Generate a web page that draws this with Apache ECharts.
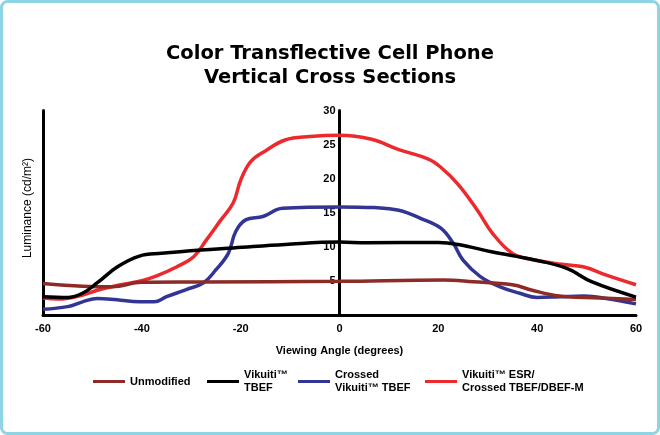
<!DOCTYPE html>
<html>
<head>
<meta charset="utf-8">
<script src="https://cdn.jsdelivr.net/npm/echarts@6/dist/echarts.min.js"></script>
<style>
html,body{margin:0;padding:0;background:#fff;}
#chart{width:660px;height:435px;}
</style>
</head>
<body>
<div id="chart"></div>
<script>
// ---- data (viewing angle in degrees, luminance in cd/m²) ----
const titleLines = ['Color Transflective Cell Phone', 'Vertical Cross Sections'];
const xTicks = { min: -60, max: 60, interval: 20 };
const yTicks = { min: 0, max: 30, interval: 5 };
const seriesNames = ['Unmodified', 'Vikuiti™\nTBEF', 'Crossed\nVikuiti™ TBEF', 'Vikuiti™ ESR/\nCrossed TBEF/DBEF-M'];

const unmodified = [[-60,4.7],[-52,4.3],[-46,4.2],[-40,4.85],[-28,4.9],[0,5.0],[21,5.2],[27,4.95],[35,4.5],[39,3.7],[44.5,2.85],[49.5,2.65],[60,2.35]];
const tbef = [[-60,2.75],[-55,2.65],[-52,3.25],[-49,4.8],[-45,7.1],[-40.5,8.7],[-36,9.1],[-28,9.6],[-21.5,9.9],[-11,10.4],[0,10.75],[5.5,10.65],[20,10.7],[24,10.4],[31,9.3],[39,8.2],[46,6.9],[51,4.95],[60,2.7]];
const crossedTbef = [[-60,0.9],[-55,1.3],[-52,2.0],[-49,2.5],[-45,2.3],[-40.5,2.0],[-37.5,2.0],[-35,2.75],[-31,3.8],[-27.5,4.8],[-25,6.7],[-22.5,9.1],[-21,12.3],[-19,14],[-15.5,14.5],[-11.5,15.7],[0,15.9],[7,15.8],[12,15.4],[16.5,14.2],[20.5,12.8],[23,10.6],[25,8.1],[28.5,5.7],[32.5,4.2],[36.5,3.25],[40,2.65],[44.5,2.75],[49.5,2.85],[54,2.5],[60,1.7]];
const esrDbef = [[-60,2.6],[-57,2.4],[-53,2.8],[-49,3.7],[-45,4.4],[-40,5.1],[-37,5.8],[-33,7.1],[-29.5,8.6],[-27,11],[-24,14],[-21.5,16.5],[-20,19.8],[-18,22.5],[-15,24.1],[-11,25.7],[-6,26.2],[0,26.4],[6.5,25.8],[12,24.3],[18,22.9],[20.5,21.7],[24,19.2],[28,15.3],[31,12],[35,9.1],[39,8.2],[45,7.5],[49.5,7.1],[54,5.9],[60,4.5]];

const colors = ['#8c2b27', '#000000', '#323594', '#ec2a2e'];
const FONT = "'Liberation Sans', Arial, sans-serif";

const chart = echarts.init(document.getElementById('chart'), null, {renderer: 'canvas'});

function lineSeries(name, data, color, z) {
  return {
    name: name, type: 'line', data: data, xAxisIndex: 0, yAxisIndex: 0,
    showSymbol: false, smooth: 0.4, z: z,
    lineStyle: { color: color, width: 3.5 }, itemStyle: { color: color }
  };
}

function legendFor(idx, left, top, multi) {
  return {
    data: [seriesNames[idx]], left: left, top: top, padding: 0,
    icon: 'rect', itemWidth: 32, itemHeight: 3, itemGap: 0,
    selectedMode: false,
    textStyle: {
      fontFamily: FONT, fontSize: 11, fontWeight: 'bold', color: '#000', lineHeight: 13,
      padding: multi ? [13, 0, 0, 0] : 0
    }
  };
}

const option = {
  animation: false,
  backgroundColor: '#fff',
  title: {
    text: titleLines.join('\n'), left: 'center', top: 42, padding: 0,
    textStyle: { fontFamily: "'DejaVu Sans', sans-serif", fontSize: 19.5, fontWeight: 'bold', color: '#000', lineHeight: 24 }
  },
  grid: { left: 43, right: 24, top: 110.6, bottom: 119.5, containLabel: false },
  legend: [
    legendFor(0, 93, 375, false),
    legendFor(1, 207, 362, true),
    legendFor(2, 298, 362, true),
    legendFor(3, 425, 362, true)
  ],
  xAxis: {
    type: 'value', min: xTicks.min, max: xTicks.max, interval: xTicks.interval,
    name: 'Viewing Angle (degrees)', nameLocation: 'middle', nameGap: 30,
    nameTextStyle: { fontFamily: FONT, fontSize: 11, fontWeight: 'bold', color: '#000' },
    axisLine: { onZero: false, lineStyle: { color: '#000', width: 3 } },
    axisTick: { show: false },
    splitLine: { show: false },
    axisLabel: { fontFamily: FONT, fontSize: 11, fontWeight: 'bold', color: '#000', margin: 8 }
  },
  yAxis: [
    {
      // labelled axis, shifted to the x = 0 position
      type: 'value', min: yTicks.min, max: yTicks.max, interval: yTicks.interval, position: 'left',
      offset: -296.5,
      axisLine: { show: true, onZero: false, lineStyle: { color: '#000', width: 3 } },
      axisTick: { show: false },
      splitLine: { show: false },
      axisLabel: {
        fontFamily: FONT, fontSize: 11, fontWeight: 'bold', color: '#000', margin: 4,
        formatter: function (v) { return v === 0 ? '' : String(v); }
      }
    },
    {
      type: 'value', min: yTicks.min, max: yTicks.max, interval: yTicks.interval, position: 'left',
      name: 'Luminance (cd/m²)', nameLocation: 'middle', nameGap: 9,
      nameTextStyle: { fontFamily: FONT, fontSize: 12, color: '#000', padding: [0, 0, 0, 10] },
      axisLine: { show: true, onZero: false, lineStyle: { color: '#000', width: 3 } },
      axisTick: { show: false },
      splitLine: { show: false },
      axisLabel: { show: false }
    }
  ],
  series: [
    lineSeries(seriesNames[3], esrDbef, colors[3], 2),
    lineSeries(seriesNames[2], crossedTbef, colors[2], 3),
    lineSeries(seriesNames[0], unmodified, colors[0], 4),
    lineSeries(seriesNames[1], tbef, colors[1], 5)
  ],
  graphic: [{
    type: 'rect', silent: true, z: 100,
    shape: { x: 1.5, y: 1.5, width: 657, height: 432, r: 6 },
    style: { fill: null, stroke: '#8dd4e4', lineWidth: 3 }
  }]
};
chart.setOption(option);
</script>
</body>
</html>
